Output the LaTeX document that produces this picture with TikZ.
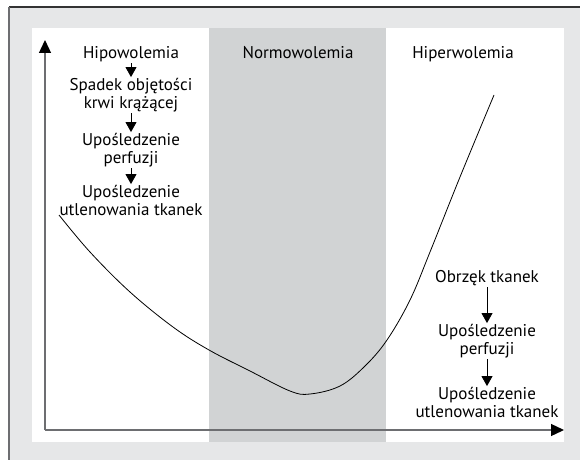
\documentclass[tikz,border=0pt]{standalone}
\usepackage{fontspec}
\setmainfont{PT Sans}
\usetikzlibrary{arrows.meta}
\definecolor{outergray}{HTML}{E6E7E8}
\definecolor{bandgray}{HTML}{D1D3D4}
\definecolor{axisgray}{HTML}{6D6E71}
\definecolor{framedark}{HTML}{333333}
\begin{document}
\begin{tikzpicture}[x=1pt,y=-1pt,
  lbl/.style={font=\fontsize{17}{18}\selectfont, align=center, inner sep=0pt, anchor=base},
  flow/.style={-{Triangle[width=11pt,length=10pt]}, line width=0.8pt, shorten <=1.5pt, shorten >=0.5pt},
  axis/.style={draw=axisgray, line width=1.3pt, -{Triangle[width=12pt,length=13pt,color=black]}},
  curve/.style={draw=black, line width=0.8pt}]
\useasboundingbox (0,0) rectangle (580,460);
% backgrounds
\fill[outergray] (9,7) rectangle (580,460);
\fill[white] (32,28) rectangle (564,442);
\fill[bandgray] (209,28) rectangle (386,442);
\draw[framedark, line width=1.5pt] (9,7) -- (580,7);
\draw[axisgray, line width=1.2pt] (9,7) -- (9,460);
% axes
\coordinate (origin) at (45,430);
\coordinate (ytop) at (45,40);
\coordinate (xend) at (564,430);
\draw[axis] (origin) -- (ytop);
\draw[axis] (origin) -- (xend);
% curve
\draw[curve] plot[smooth, tension=0.6] coordinates {(59,215) (90,252) (130,292) (173,327) (209,350) (250,371) (290,391) (310,394) (340,386) (365,366) (387,340) (410,300) (430,252) (460,177) (494,95)};
% headings
\node[lbl] (hipo) at (131,58) {Hipowolemia};
\node[lbl] (normo) at (298,58) {Normowolemia};
\node[lbl] (hiper) at (463,58) {Hiperwolemia};
% left chain (base = last line's baseline)
\node[lbl] (l1) at (131,108) {Spadek objętości\\krwi krążącej};
\node[lbl] (l2) at (131,163) {Upośledzenie\\perfuzji};
\node[lbl] (l3) at (131,215) {Upośledzenie\\utlenowania tkanek};
\draw[flow] (hipo) -- (l1);
\draw[flow] (l1) -- (l2);
\draw[flow] (l2) -- (l3);
% right chain
\node[lbl] (r1) at (487,282) {Obrzęk tkanek};
\node[lbl] (r2) at (487,354) {Upośledzenie\\perfuzji};
\node[lbl] (r3) at (487,417) {Upośledzenie\\utlenowania tkanek};
\draw[flow] (r1) -- (r2);
\draw[flow] (r2) -- (r3);
\end{tikzpicture}
\end{document}
